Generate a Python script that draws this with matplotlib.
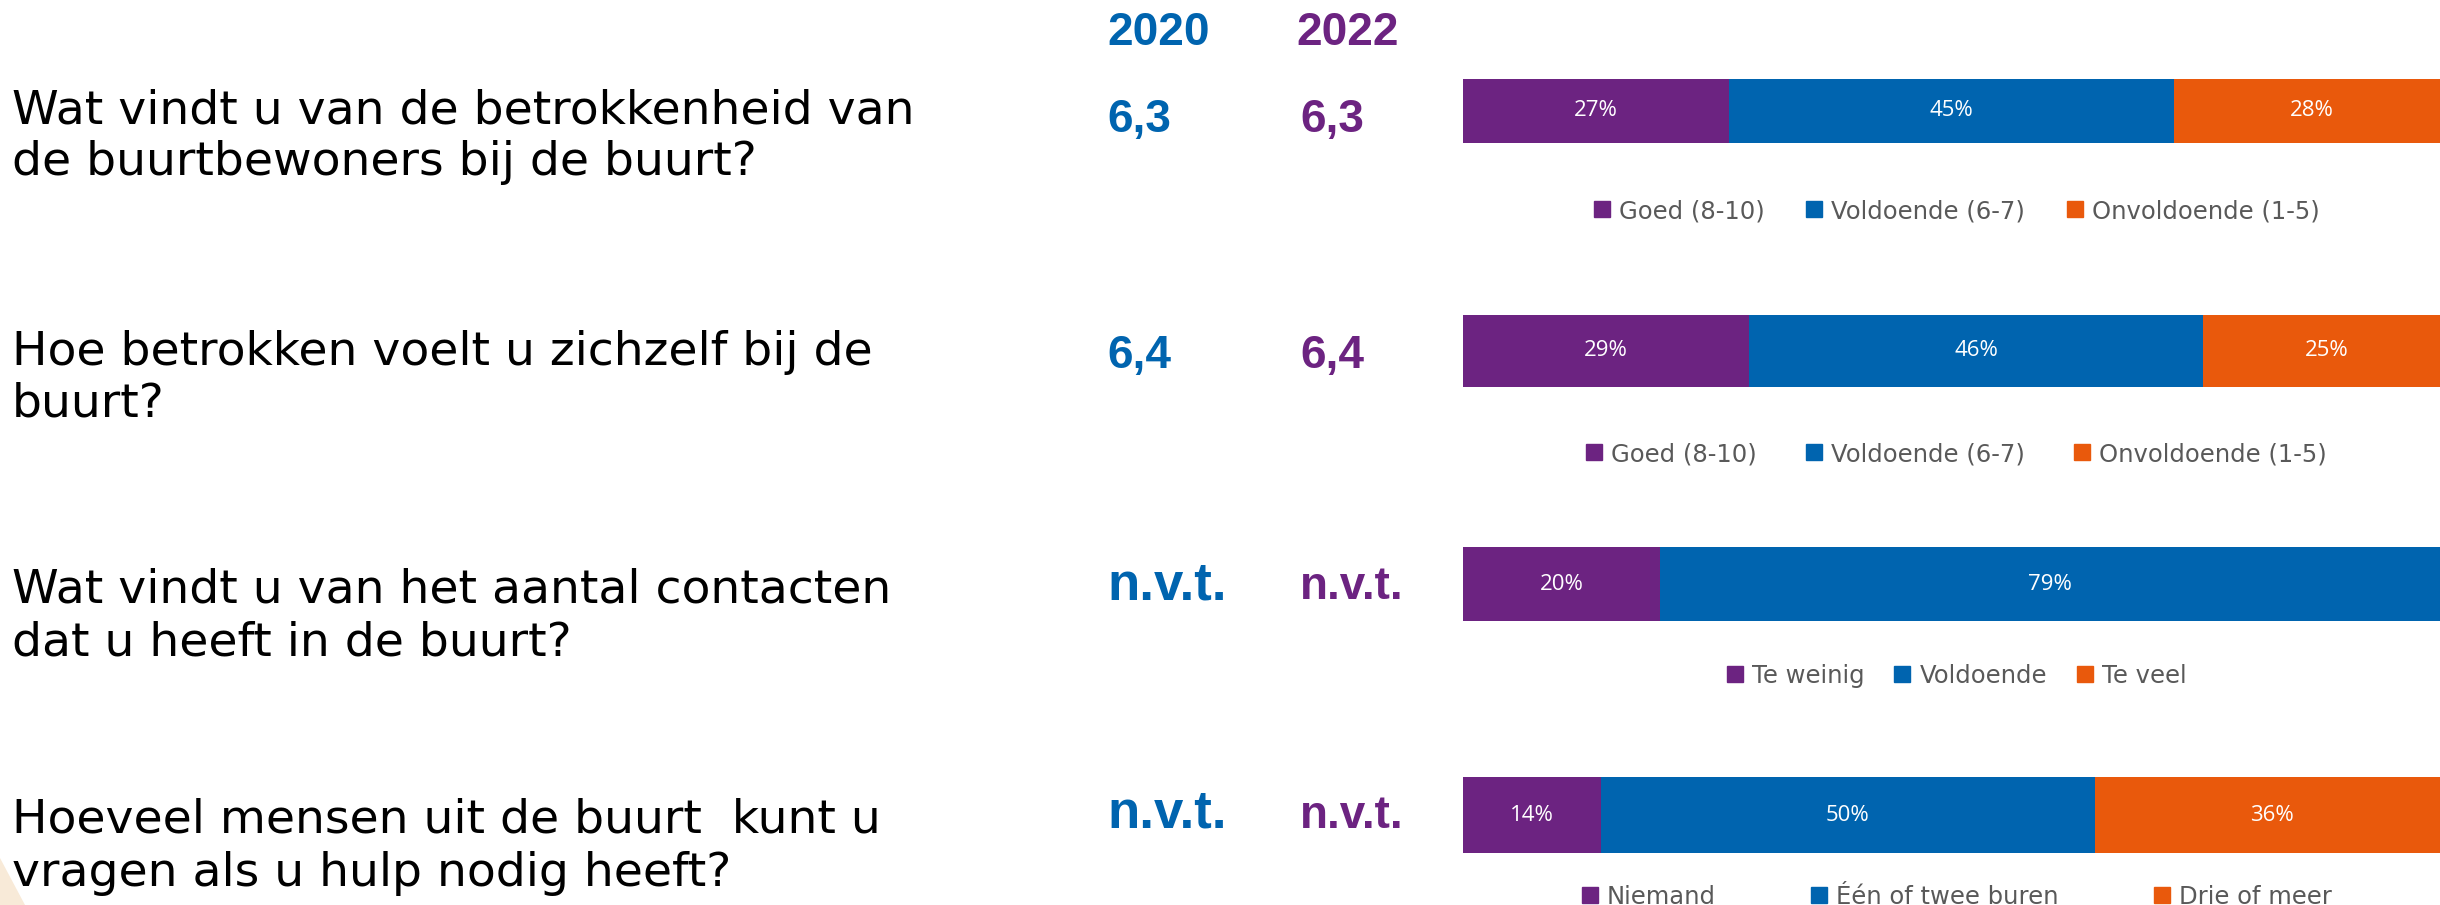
import matplotlib
matplotlib.use("Agg")
import matplotlib.pyplot as plt
from matplotlib.lines import Line2D
from matplotlib.patches import Polygon

W, H = 2440, 905

questions = [
    "Wat vindt u van de betrokkenheid van\nde buurtbewoners bij de buurt?",
    "Hoe betrokken voelt u zichzelf bij de\nbuurt?",
    "Wat vindt u van het aantal contacten\ndat u heeft in de buurt?",
    "Hoeveel mensen uit de buurt  kunt u\nvragen als u hulp nodig heeft?",
]
years = ["2020", "2022"]
scores_2020 = ["6,3", "6,4", "n.v.t.", "n.v.t."]
scores_2022 = ["6,3", "6,4", "n.v.t.", "n.v.t."]
categories = [
    ["Goed (8-10)", "Voldoende (6-7)", "Onvoldoende (1-5)"],
    ["Goed (8-10)", "Voldoende (6-7)", "Onvoldoende (1-5)"],
    ["Te weinig", "Voldoende", "Te veel"],
    ["Niemand", "Één of twee buren", "Drie of meer"],
]
shares = [
    [27, 45, 28],
    [29, 46, 25],
    [20, 79, 1],
    [14, 50, 36],
]

purple = "#6C2381"
blue = "#0064AF"
orange = "#E9590C"
colors = [purple, blue, orange]
grey = "#595959"

# layout in pixels (from the top of the image)
bar_top = [79, 315, 547, 777]
bar_bottom = [143, 387, 621, 853]
legend_y = [211, 454, 676, 897]
col_space = [1.7, 2.0, 1.2, 3.9]
q_base = [(124, 175), (365, 416), (602, 655), (832, 886)]
score_base = [132, 368, 599, 828]
bar_left, bar_right = 1463, 2450


def fx(x):
    return x / W


def fy(y):
    return 1 - y / H


fig = plt.figure(figsize=(W / 100, H / 100), dpi=100)
fig.patch.set_facecolor("white")

# decorative corner
fig.patches.append(Polygon([(0, fy(858)), (fx(25), 0), (0, 0)], closed=True,
                           transform=fig.transFigure, facecolor="#F8EAD8",
                           edgecolor="none"))

# year headers
fig.text(fx(1107), fy(45), years[0], color=blue, fontsize=33, fontweight="bold",
         family="Liberation Sans", ha="left", va="baseline")
fig.text(fx(1296), fy(45), years[1], color=purple, fontsize=33, fontweight="bold",
         family="Liberation Sans", ha="left", va="baseline")

for i in range(4):
    l1, l2 = questions[i].split("\n")
    fig.text(fx(12), fy(q_base[i][0]), l1, fontsize=34, family="DejaVu Sans",
             color="black", ha="left", va="baseline")
    fig.text(fx(12), fy(q_base[i][1]), l2, fontsize=34, family="DejaVu Sans",
             color="black", ha="left", va="baseline")

    s20 = 38 if scores_2020[i] == "n.v.t." else 33
    fig.text(fx(1107), fy(score_base[i]), scores_2020[i], color=blue, fontsize=s20,
             fontweight="bold", family="Liberation Sans", ha="left", va="baseline")
    fig.text(fx(1300), fy(score_base[i]), scores_2022[i], color=purple, fontsize=33,
             fontweight="bold", family="Liberation Sans", ha="left", va="baseline")

    ax = fig.add_axes([fx(bar_left), fy(bar_bottom[i]),
                       (bar_right - bar_left) / W, (bar_bottom[i] - bar_top[i]) / H])
    left = 0
    for v, c in zip(shares[i], colors):
        ax.barh(0, v, left=left, height=1.0, color=c, edgecolor="none")
        if v >= 5:
            ax.text(left + v / 2, 0, f"{v}%", color="white", fontsize=16,
                    family="Open Sans", ha="center", va="center")
        left += v
    ax.set_xlim(0, 100)
    ax.set_ylim(-0.5, 0.5)
    ax.axis("off")

    handles = [Line2D([], [], marker="s", linestyle="none", markersize=11, color=c)
               for c in colors]
    leg = fig.legend(handles, categories[i], loc="center", ncol=3, frameon=False,
                     bbox_to_anchor=(fx((bar_left + bar_right) / 2), fy(legend_y[i])),
                     bbox_transform=fig.transFigure, handlelength=0.7,
                     handletextpad=0.35, columnspacing=col_space[i],
                     prop={"family": "DejaVu Sans", "size": 17.5})
    for t in leg.get_texts():
        t.set_color(grey)

fig.savefig("out.png", dpi=100, facecolor="white")
